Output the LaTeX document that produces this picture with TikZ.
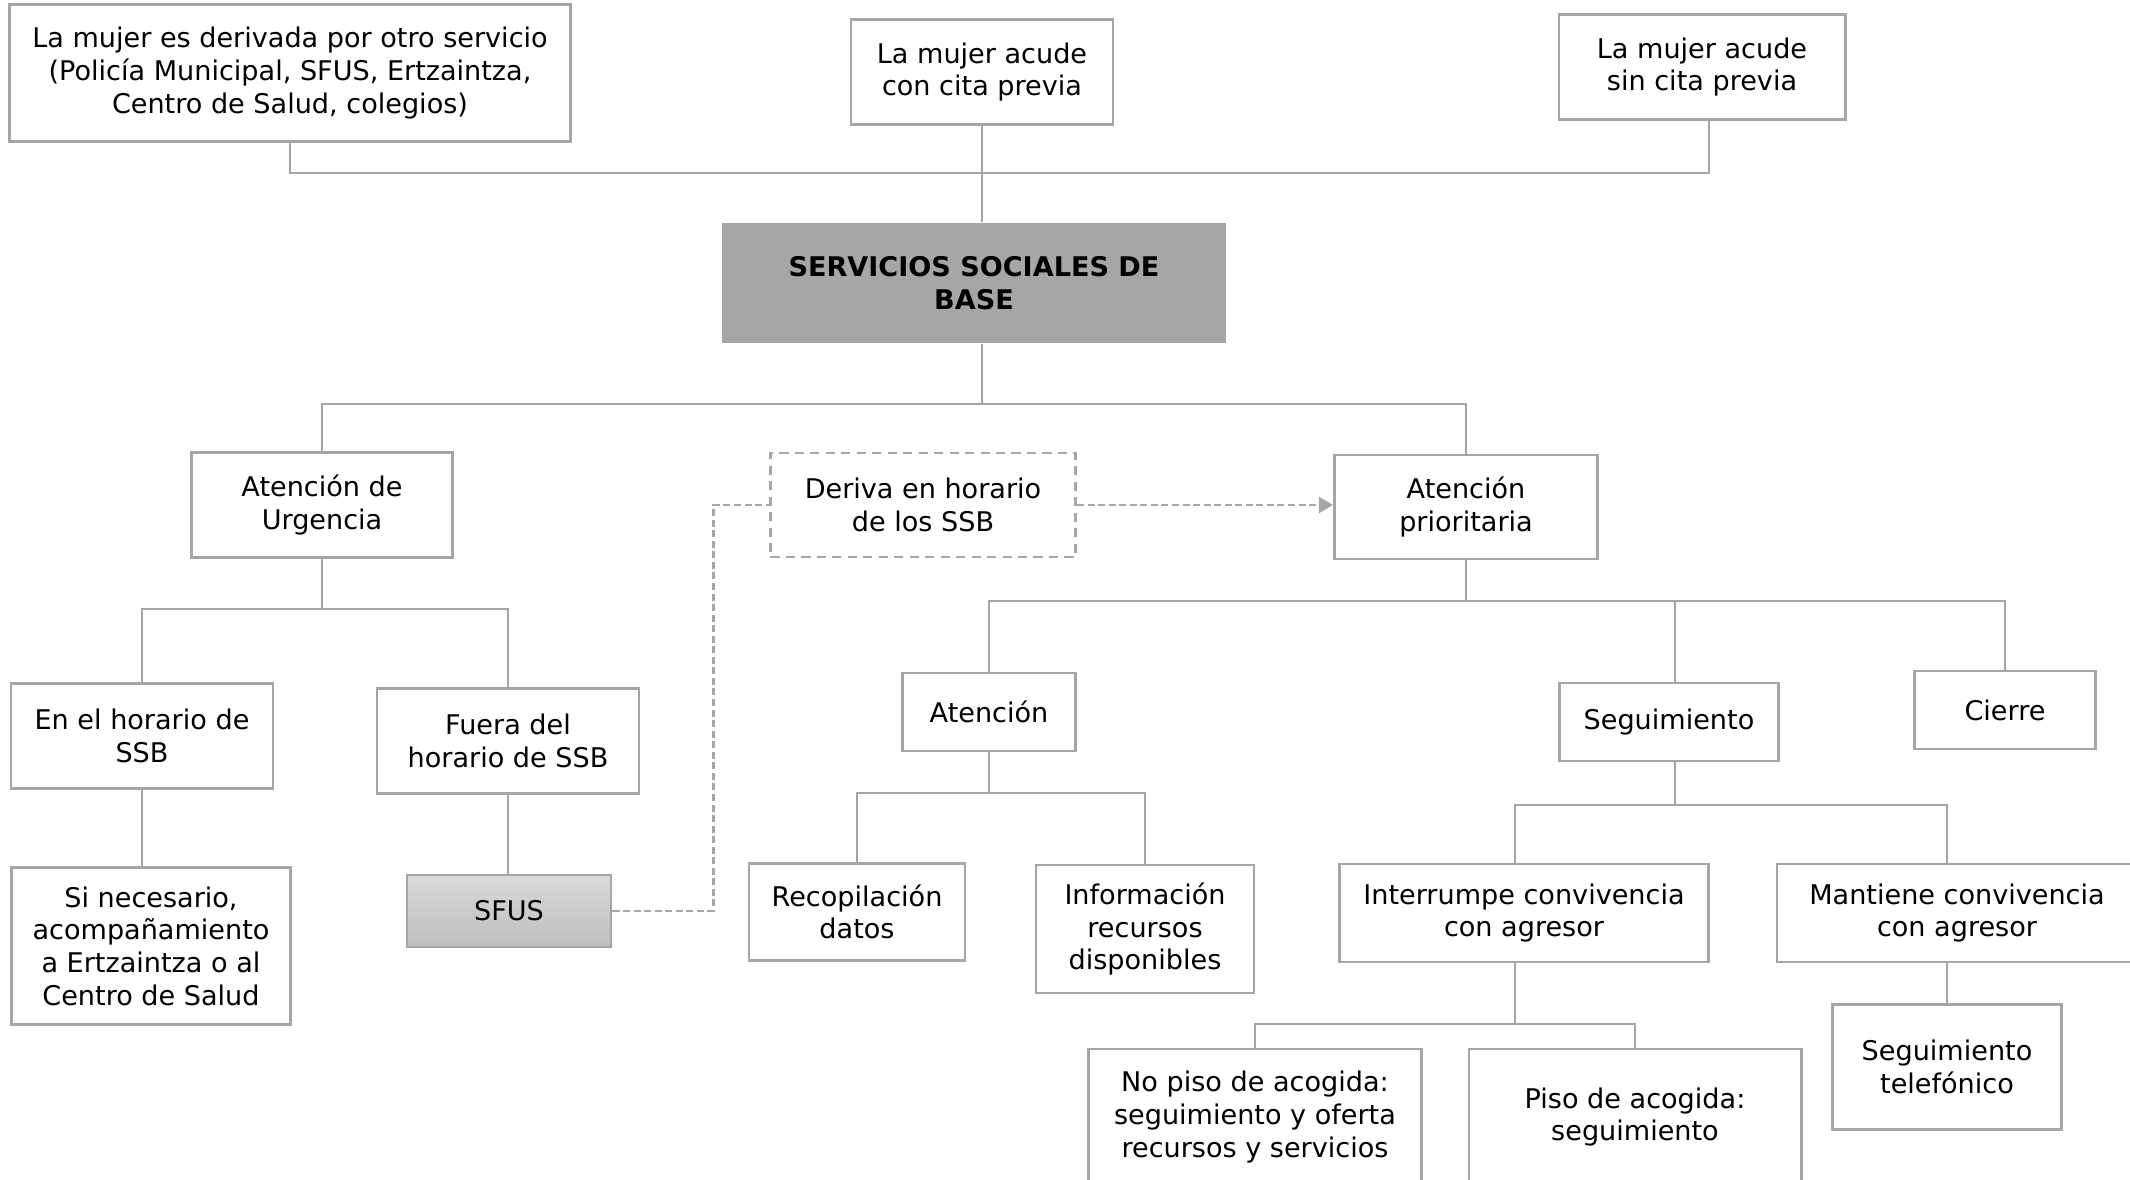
\documentclass[tikz,border=0pt]{standalone}
\usepackage{fontspec}
\setmainfont{DejaVu Sans}
\usepackage{xcolor}
\usepackage{tikz}
\usetikzlibrary{calc, positioning, arrows.meta}

\definecolor{linegray}{RGB}{166,166,166}
\definecolor{headgray}{RGB}{166,166,166}
\definecolor{sfustop}{RGB}{218,218,218}
\definecolor{sfusbottom}{RGB}{190,190,190}

\begin{document}
\begin{tikzpicture}[x=0.01cm,y=-0.01cm,
                    line width=0.8pt,
                    box node/.style={draw=linegray,fill=white,align=center,inner sep=0pt,
                                     font=\fontsize{7.7}{9.3}\selectfont},
                    link/.style={draw=linegray,line width=0.8pt},
                    dash link/.style={draw=linegray,line width=0.8pt,dash pattern=on 2pt off 1pt}]
\useasboundingbox (0,0) rectangle (2130,1180);
\clip (0,0) rectangle (2130,1180);

\node[box node,minimum width=5.6cm,minimum height=1.37cm] (derivada) at (290,73)
     {La mujer es derivada por otro servicio\\(Policía Municipal, SFUS, Ertzaintza,\\Centro de Salud, colegios)};
\node[box node,minimum width=2.62cm,minimum height=1.05cm] (concita) at (982,72)
     {La mujer acude\\con cita previa};
\node[box node,minimum width=2.86cm,minimum height=1.05cm] (sincita) at (1702,67)
     {La mujer acude\\sin cita previa};

\node[box node,draw=none,fill=headgray,minimum width=5.03cm,minimum height=1.2cm,
      font=\fontsize{7.7}{9.3}\selectfont\bfseries] (SSB) at (974,283)
     {SERVICIOS SOCIALES DE\\BASE};

\node[box node,minimum width=2.61cm,minimum height=1.05cm] (Urgencia) at (322,505)
     {Atención de\\Urgencia};
\node[box node,dash pattern=on 2.6pt off 1.8pt,minimum width=3.05cm,minimum height=1.04cm] (Deriva) at (923,505)
     {Deriva en horario\\de los SSB};
\node[box node,minimum width=2.63cm,minimum height=1.04cm] (Prioritaria) at (1466,507)
     {Atención\\prioritaria};

\node[box node,minimum width=2.62cm,minimum height=1.05cm] (EnHorario) at (142,736)
     {En el horario de\\SSB};
\node[box node,minimum width=2.62cm,minimum height=1.05cm] (FueraHorario) at (508,741)
     {Fuera del\\horario de SSB};
\node[box node,minimum width=2.79cm,minimum height=1.57cm] (SiNecesario) at (151,946)
     {Si necesario,\\acompañamiento\\a Ertzaintza o al\\Centro de Salud};
\node[box node,top color=sfustop,bottom color=sfusbottom,minimum width=2.04cm,minimum height=0.72cm] (SFUS) at (509,911)
     {SFUS};

\node[box node,minimum width=1.73cm,minimum height=0.78cm] (Atencion) at (989,712) {Atención};
\node[box node,minimum width=2.19cm,minimum height=0.78cm] (Seguimiento) at (1669,722) {Seguimiento};
\node[box node,minimum width=1.81cm,minimum height=0.78cm] (Cierre) at (2005,710) {Cierre};

\node[box node,minimum width=2.16cm,minimum height=0.97cm] (Recopilacion) at (857,912)
     {Recopilación\\datos};
\node[box node,minimum width=2.18cm,minimum height=1.28cm] (Informacion) at (1145,929)
     {Información\\recursos\\disponibles};
\node[box node,minimum width=3.69cm,minimum height=0.98cm] (Interrumpe) at (1524,913)
     {Interrumpe convivencia\\con agresor};
\node[box node,minimum width=3.6cm,minimum height=0.98cm] (Mantiene) at (1957,913)
     {Mantiene convivencia\\con agresor};

\node[box node,minimum width=3.33cm,minimum height=1.36cm] (NoPiso) at (1255,1117)
     {No piso de acogida:\\seguimiento y oferta\\recursos y servicios};
\node[box node,minimum width=3.32cm,minimum height=1.36cm] (Piso) at (1635,1117)
     {Piso de acogida:\\seguimiento};
\node[box node,minimum width=2.29cm,minimum height=1.25cm] (Telefonico) at (1947,1067)
     {Seguimiento\\telefónico};

\draw[link] (derivada.south) |- ([xshift=0.07cm]sincita.south |- 0,173) -- ([xshift=0.07cm]sincita.south);
\draw[link] (concita.south) -- (concita.south |- SSB.north);

\draw[link] (concita.south |- SSB.south) -- (concita.south |- 0,404);
\draw[link] (Urgencia.north) |- (Prioritaria.north |- 0,404) -- (Prioritaria.north);

\draw[link] (Urgencia.south) -- (Urgencia.south |- 0,609);
\draw[link] (EnHorario.north) |- (FueraHorario.north |- 0,609) -- (FueraHorario.north);
\draw[link] (EnHorario.south) -- (EnHorario.south |- SiNecesario.north);
\draw[link] (FueraHorario.south) -- (FueraHorario.south |- SFUS.north);

\draw[dash link] (SFUS.east) -- ++(101,0) |- (Deriva.west);
\draw[dash link,-{Triangle[length=4pt,width=4.5pt]}] (Deriva.east) -- (Prioritaria.west |- Deriva.east);

\draw[link] (Prioritaria.south) -- (Prioritaria.south |- 0,601);
\draw[link] (Atencion.north) |- (Cierre.north |- 0,601) -- (Cierre.north);
\draw[link] ([xshift=0.06cm]Seguimiento.north) -- ([xshift=0.06cm]Seguimiento.north |- 0,601);

\draw[link] (Atencion.south) -- (Atencion.south |- 0,793);
\draw[link] (Recopilacion.north) |- (Informacion.north |- 0,793) -- (Informacion.north);

\draw[link] ([xshift=0.06cm]Seguimiento.south) -- ([xshift=0.06cm]Seguimiento.south |- 0,805);
\draw[link] ([xshift=-0.09cm]Interrumpe.north) |- (Telefonico.north |- 0,805) -- (Telefonico.north |- Mantiene.north);
\draw[link] (Telefonico.north |- Mantiene.south) -- (Telefonico.north);

\draw[link] ([xshift=-0.09cm]Interrumpe.south) -- ([xshift=-0.09cm]Interrumpe.south |- 0,1024);
\draw[link] (NoPiso.north) |- (Piso.north |- 0,1024) -- (Piso.north);

\end{tikzpicture}
\end{document}
